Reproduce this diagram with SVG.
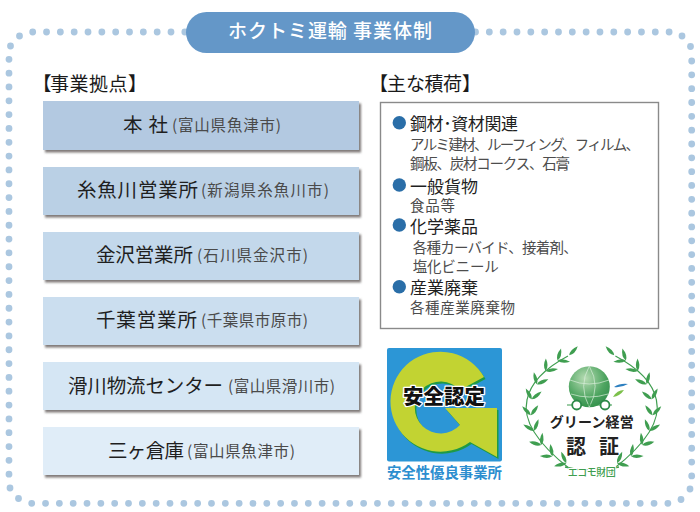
<svg xmlns="http://www.w3.org/2000/svg" width="700" height="512" viewBox="0 0 700 512">
<defs>
<style>
text{font-family:"Noto Sans CJK JP","Noto Sans CJK SC",sans-serif}
.dots{fill:none;stroke:#abc7e0;stroke-width:6.8;stroke-linecap:round;stroke-dasharray:0 13.83}
.dot{fill:#abc7e0}
.box{filter:url(#sh)}
.m{font-size:19.5px;fill:#1f1f1f}
.s{font-size:15.5px;fill:#4a4a4a}
.h{font-size:19px;fill:#1a1a1a}
.t{font-size:17px;fill:#1f1f1f}
.d{font-size:14.5px;fill:#4d4d4d}
.b{fill:#2a6ea8}
.lf{fill:#3f9e50}
</style>
<filter id="sh" x="-5%" y="-10%" width="110%" height="130%"><feDropShadow dx="2" dy="2.5" stdDeviation="1" flood-color="#6b6360" flood-opacity=".85"/></filter>
<radialGradient id="gl" cx=".4" cy=".3" r=".8"><stop offset="0" stop-color="#b7dcb4"/><stop offset=".6" stop-color="#4fa561"/><stop offset="1" stop-color="#2d8a49"/></radialGradient>
<path id="leaf" d="M0 0Q5-3.600 12.500 0Q5 3.600 0 0Z"/>
<g id="pair" class="lf"><use href="#leaf" transform="rotate(50)"/><use href="#leaf" transform="rotate(130)"/></g>
<g id="wr">
<path d="M570 469Q520 430 527 400Q532 375 568 356" fill="none" stroke="#3f9e50" stroke-width="1.2"/>
<g transform="translate(591.7 411)">
<use href="#pair" transform="rotate(116) translate(58 0)"/>
<use href="#pair" transform="rotate(131) translate(60 0)"/>
<use href="#pair" transform="rotate(146) translate(61 0)"/>
<use href="#pair" transform="rotate(161) translate(61 0)"/>
<use href="#pair" transform="rotate(176) translate(61 0)"/>
<use href="#pair" transform="rotate(191) translate(61 0)"/>
<use href="#pair" transform="rotate(206) translate(61 0)"/>
<use href="#pair" transform="rotate(221) translate(61 0)"/>
<use href="#pair" transform="rotate(236) translate(61 0)"/>
<use href="#leaf" class="lf" transform="rotate(248) translate(60 0) rotate(65)"/>
</g>
</g>
</defs>
<rect width="700" height="512" fill="#fff"/>
<g id="frame">
<path class="dots" d="M32.7 32H185"/>
<path class="dots" d="M475.500 32H670"/>
<path class="dots" d="M9 59.3V475"/>
<path class="dots" d="M691.7 61V477"/>
<path class="dots" d="M31.7 503.3H668"/>
<circle class="dot" cx="19.5" cy="36" r="3.4"/><circle class="dot" cx="10.5" cy="46" r="3.4"/>
<circle class="dot" cx="682" cy="36" r="3.4"/><circle class="dot" cx="690.500" cy="46.500" r="3.4"/>
<circle class="dot" cx="10" cy="488" r="3.4"/><circle class="dot" cx="18.5" cy="498.5" r="3.4"/>
<circle class="dot" cx="690" cy="489" r="3.4"/><circle class="dot" cx="681" cy="499.5" r="3.4"/>
</g>
<g id="title">
<rect x="186" y="12" width="289" height="41" rx="20.5" fill="#6497c8"/>
<text x="228" y="38" font-size="19" fill="#fff" font-weight="500" textLength="204">ホクトミ運輸 事業体制</text>
</g>
<text class="h" x="32.500 50 69.500 89 108.500 128" y="91">【事業拠点】</text>
<text class="h" x="369 387 406 424.500 443 462" y="91">【主な積荷】</text>
<g id="n1"><rect class="box" x="43" y="101" width="316" height="49" fill="#b3c9e1"/>
<text class="m" x="123" y="132" textLength="45">本 社</text><text class="s" x="172" y="131" textLength="109">(富山県魚津市)</text></g>
<g id="n2"><rect class="box" x="43" y="167" width="316" height="48" fill="#bad0e5"/>
<text class="m" x="77" y="197" textLength="121">糸魚川営業所</text><text class="s" x="201" y="196" textLength="128">(新潟県糸魚川市)</text></g>
<g id="n3"><rect class="box" x="43" y="232" width="316" height="48" fill="#c3d8eb"/>
<text class="m" x="96" y="262" textLength="97">金沢営業所</text><text class="s" x="197" y="261" textLength="111">(石川県金沢市)</text></g>
<g id="n4"><rect class="box" x="43" y="297" width="316" height="48" fill="#cbdeef"/>
<text class="m" x="96" y="327" textLength="101">千葉営業所</text><text class="s" x="201" y="326" textLength="107">(千葉県市原市)</text></g>
<g id="n5"><rect class="box" x="43" y="362" width="316" height="48" fill="#d5e6f4"/>
<text class="m" x="68" y="393" textLength="155">滑川物流センター</text><text class="s" x="228" y="392" textLength="107">(富山県滑川市)</text></g>
<g id="n6"><rect class="box" x="43" y="427" width="316" height="48" fill="#e0edf8"/>
<text class="m" x="108" y="458" textLength="76">三ヶ倉庫</text><text class="s" x="187" y="457" textLength="108">(富山県魚津市)</text></g>
<g id="cargo">
<rect x="380.5" y="102.500" width="278" height="226" fill="#fff" stroke="#8a8a8a" stroke-width="1.4"/>
<circle class="b" cx="399.300" cy="122.700" r="6.700"/><circle class="b" cx="399.300" cy="185" r="6.700"/><circle class="b" cx="399.300" cy="225" r="6.700"/><circle class="b" cx="399.300" cy="286.700" r="6.700"/>
<text class="t" x="410" y="130" textLength="108">鋼材･資材関連</text>
<text class="d" x="410" y="150" textLength="230">アルミ建材、ルーフィング、フィルム、</text>
<text class="d" x="410" y="169" textLength="160">鋼板、炭材コークス、石膏</text>
<text class="t" x="410" y="192.500" textLength="68">一般貨物</text>
<text class="d" x="410" y="211" textLength="45">食品等</text>
<text class="t" x="410" y="232.500" textLength="68">化学薬品</text>
<text class="d" x="412.700" y="253" textLength="165">各種カーバイド、接着剤、</text>
<text class="d" x="412.700" y="272" textLength="86">塩化ビニール</text>
<text class="t" x="410" y="294" textLength="68">産業廃棄</text>
<text class="d" x="410" y="313" textLength="105">各種産業廃棄物</text>
</g>
<g id="safety">
<rect x="387" y="348" width="115" height="113.500" rx="2" fill="#2c96d6"/>
<path d="M484 377A50 50 0 1 0 470 442L497 457V408H445L460 425A26 26 0 1 1 460 390Z" fill="#1f9a45" transform="translate(1.500 2)"/>
<path d="M484 377A50 50 0 1 0 470 442L497 457V408H445L460 425A26 26 0 1 1 460 390Z" fill="#c2d332"/>
<text x="444" y="404" font-size="20.500" font-weight="900" text-anchor="middle" fill="#111" stroke="#fff" stroke-width="2.500" paint-order="stroke" stroke-linejoin="round">安全認定</text>
<text x="387" y="478" font-size="14.400" font-weight="700" fill="#2c8ecf" textLength="115">安全性優良事業所</text>
</g>
<g id="eco">
<use href="#wr"/>
<use href="#wr" transform="translate(1183.400 0) scale(-1 1)"/>
<path d="M565 467L580 470H604L619 467" fill="none" stroke="#3f9e50" stroke-width="1.300"/>
<circle cx="589.300" cy="386.700" r="20.500" fill="url(#gl)"/>
<path d="M589.300 366.200Q578 386 589.300 407.200M589.300 366.200Q601 386 589.300 407.200M570 380Q589 388 609 380M571 394Q589 400 608 394" fill="none" stroke="#d8eeda" stroke-width=".7"/>
<path d="M567 405H612" stroke="#3a9a4c" stroke-width="1.200"/>
<circle cx="576.700" cy="405" r="4.500" fill="#fff" stroke="#2d8a49" stroke-width="1.800"/>
<circle cx="605" cy="405" r="4.500" fill="#fff" stroke="#2d8a49" stroke-width="1.800"/>
<path d="M614 387Q620 383 628 384Q621 388 614 387Z" fill="#2c7fc0"/>
<path d="M613 397Q617 390 624 390Q620 396 613 397Z" fill="#7cc04a"/>
<text x="591.700" y="427" font-size="14" font-weight="700" text-anchor="middle" fill="#222" textLength="84">グリーン経営</text>
<text x="566" y="454" font-size="20" font-weight="700" fill="#222" textLength="53">認 証</text>
<text x="567.700" y="475.500" font-size="10" font-weight="500" fill="#3f9e50" textLength="48" stroke="#fff" stroke-width="2" paint-order="stroke">エコモ財団</text>
</g>
</svg>
